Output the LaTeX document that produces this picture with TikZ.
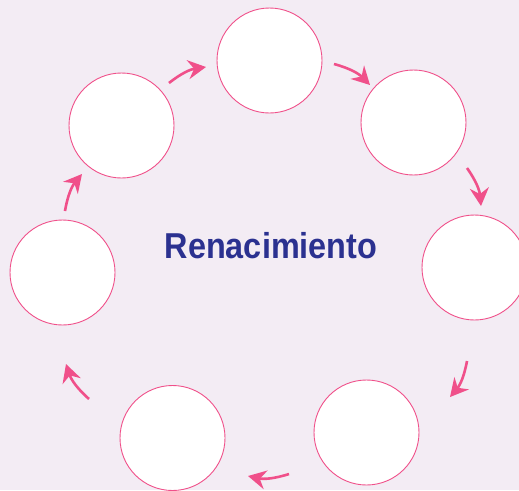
\documentclass[tikz,border=0pt]{standalone}
\usepackage{fontspec}
\setmainfont{Liberation Sans}
\usetikzlibrary{arrows.meta}
\definecolor{bgc}{HTML}{F3ECF4}
\definecolor{pinkc}{HTML}{F0508A}
\definecolor{bluec}{HTML}{2B3190}
\begin{document}
\begin{tikzpicture}[x=1pt,y=-1pt,
  stagecircle/.style={circle,draw=pinkc,line width=0.9pt,fill=white,minimum size=105pt,inner sep=0pt},
  cyclearrow/.style={draw=pinkc,line width=2.6pt,-{Stealth[length=18pt,width=19pt,inset=6pt]}}]
\useasboundingbox (0,0) rectangle (519,490);
\fill[bgc] (0,0) rectangle (519,490);
\node[stagecircle] (c1) at (269.5,60.5) {};
\node[stagecircle] (c2) at (413.5,122.5) {};
\node[stagecircle] (c3) at (474.5,267.5) {};
\node[stagecircle] (c4) at (366.5,432.5) {};
\node[stagecircle] (c5) at (172.5,438) {};
\node[stagecircle] (c6) at (62.5,272.5) {};
\node[stagecircle] (c7) at (121.5,125.5) {};
\node[text=bluec,font=\bfseries\fontsize{36}{40}\selectfont,anchor=base] (title) at (271,258) {\scalebox{0.9}[1]{Renacimiento}};
\coordinate (a1s) at (169,83); \coordinate (a1e) at (206,67);
\coordinate (a2s) at (334,64); \coordinate (a2e) at (370,85);
\coordinate (a3s) at (467,168); \coordinate (a3e) at (481,206);
\coordinate (a4s) at (467,361); \coordinate (a4e) at (450,397);
\coordinate (a5s) at (289,474); \coordinate (a5e) at (248,476);
\coordinate (a6s) at (89,399); \coordinate (a6e) at (66,364);
\coordinate (a7s) at (65,211); \coordinate (a7e) at (82,174);
\draw[cyclearrow] (a1s) to[bend left=15] (a1e);
\draw[cyclearrow] (a2s) to[bend left=15] (a2e);
\draw[cyclearrow] (a3s) to[bend left=15] (a3e);
\draw[cyclearrow] (a4s) to[bend left=15] (a4e);
\draw[cyclearrow] (a5s) to[bend left=15] (a5e);
\draw[cyclearrow] (a6s) to[bend left=15] (a6e);
\draw[cyclearrow] (a7s) to[bend left=15] (a7e);
\end{tikzpicture}
\end{document}
